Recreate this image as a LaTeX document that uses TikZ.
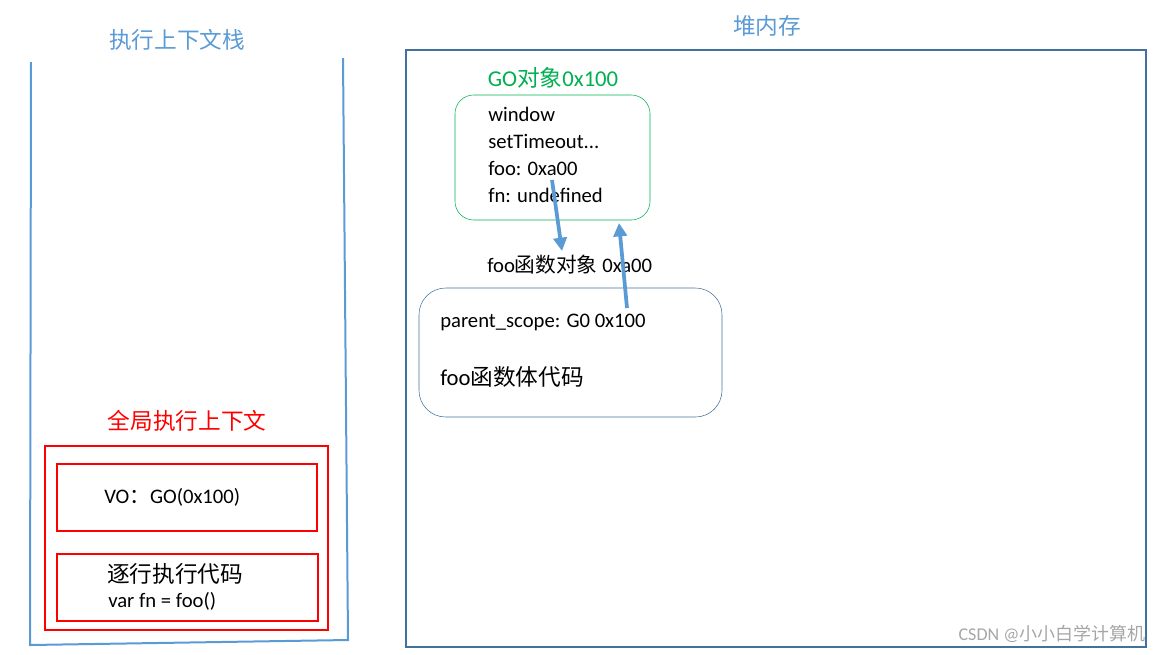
\documentclass[tikz,border=0pt]{standalone}
\usepackage{fontspec}
\setmainfont{Carlito}
\newfontfamily\cjk{Noto Sans CJK SC}
\usetikzlibrary{arrows.meta}
\definecolor{sblue}{HTML}{5B9BD5}
\definecolor{dblue}{HTML}{41719C}
\definecolor{sgreen}{HTML}{00B050}
\begin{document}
\begin{tikzpicture}[x=0.75pt,y=-0.75pt,
  txt/.style={font=\fontsize{15.5}{17}\selectfont, inner sep=0pt},
  ttl/.style={txt, text=sblue, font=\fontsize{17}{19}\selectfont},
  redbox/.style={draw=red, line width=1.5pt},
  arr/.style={draw=sblue, line width=2.8pt, -{Triangle[length=10pt,width=10pt]}}]
\useasboundingbox (0,0) rectangle (1173,654);
\node[ttl] (t1) at (177,40) {\cjk 执行上下文栈};
\draw[sblue, line width=1.5pt] (31,62) -- (30,645) -- (348,640) -- (343,58);
\node[txt, text=red, font=\fontsize{17}{19}\selectfont] (t2) at (187,421) {\cjk 全局执行上下文};
\draw[redbox, line width=2pt] (45,446) rectangle (328,630);
\node[redbox, minimum width=195pt, minimum height=50pt, anchor=north west] (vo) at (56,463) {};
\node[txt, anchor=west] at (104,497) {VO{\cjk ：}GO(0x100)};
\node[redbox, minimum width=196pt, minimum height=50pt, anchor=north west] (ex) at (56,553) {};
\node[txt, anchor=west, font=\fontsize{17}{19}\selectfont] (e1) at (107,574) {\cjk 逐行执行代码};
\node[txt, anchor=west] (e2) at (108,601) {var fn = foo()};
\node[ttl] (t3) at (767,26) {\cjk 堆内存};
\draw[dblue, line width=1.5pt] (406,50) rectangle (1146,647);
\node[txt, text=sgreen, font=\fontsize{17}{19}\selectfont] (t4) at (553,78) {GO{\cjk 对象}0x100};
\draw[sgreen, rounded corners=14pt] (455,95) rectangle (650,220);
\coordinate (gt) at (619,223);
\node[txt, anchor=west] at (488,114) {window};
\node[txt, anchor=west] at (488,141) {setTimeout...};
\node[txt, anchor=west] at (488,168) {foo: 0xa00};
\node[txt, anchor=west] at (488,195) {fn: undefined};
\node[txt, anchor=west] (t5) at (487,265) {foo{\cjk 函数对象} 0xa00};
\draw[dblue, rounded corners=20pt] (419,288) rectangle (722,417);
\node[txt, anchor=west] (p1) at (440,322) {parent\_scope: G0 0x100};
\node[txt, anchor=west, font=\fontsize{17}{19}\selectfont] (p2) at (440,377) {foo{\cjk 函数体代码}};
\coordinate (a1s) at (552,180);
\coordinate (a1e) at (562,251);
\coordinate (a2s) at (627,308);
\draw[arr] (a1s) -- (a1e);
\draw[arr] (a2s) -- (gt);
\node[txt, text=gray!70, font=\fontsize{13.5}{15}\selectfont] (wm) at (1052,634) {CSDN @{\cjk 小小白学计算机}};
\end{tikzpicture}
\end{document}
